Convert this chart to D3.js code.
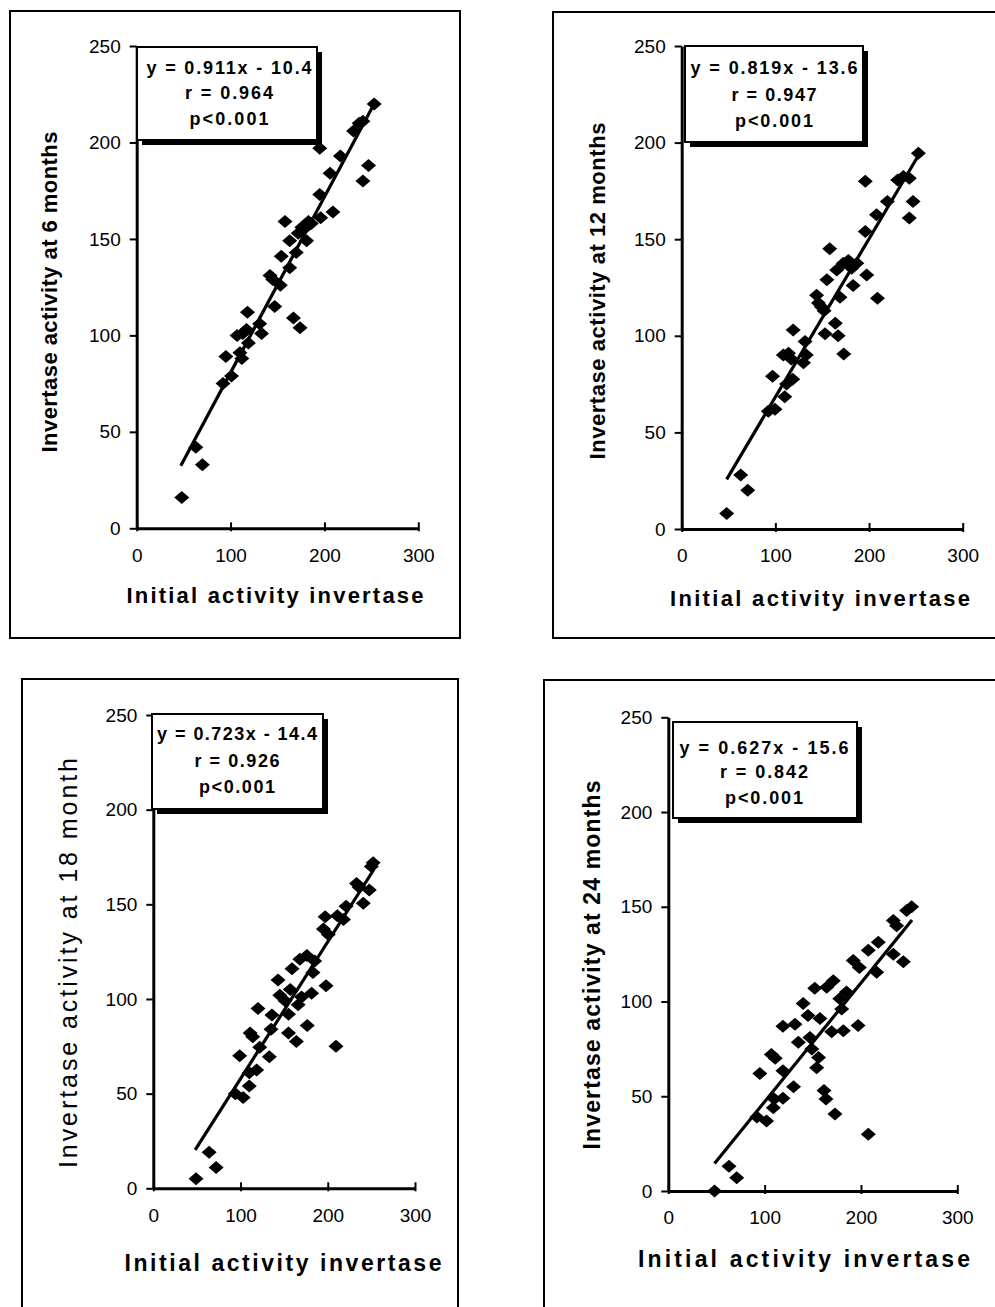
<!DOCTYPE html>
<html>
<head>
<meta charset="utf-8">
<script src="https://cdn.jsdelivr.net/npm/d3@7"></script>
<style>
  body { margin: 0; background: #fff; }
  svg { display: block; }
  text { font-family: "Liberation Sans", Arial, sans-serif; fill: #000; }
</style>
</head>
<body>
<script>
// ---- data ----
var xTicks = [0, 100, 200, 300];
var yTicks = [0, 50, 100, 150, 200, 250];
var xTitle = "Initial activity invertase";
var yTitles = ["Invertase activity at  6 months", "Invertase activity at  12 months",
               "Invertase activity at  18 month", "Invertase activity at  24 months"];
var eqLabels = ["y = 0.911x - 10.4", "y = 0.819x - 13.6", "y = 0.723x - 14.4", "y = 0.627x - 15.6"];
var rLabels = ["r = 0.964", "r = 0.947", "r = 0.926", "r = 0.842"];
var pLabels = ["p<0.001", "p<0.001", "p<0.001", "p<0.001"];
var slopes = [0.911, 0.819, 0.723, 0.627];
var intercepts = [-10.4, -13.6, -14.4, -15.6];
var fitFrom = [47, 48, 48, 48];
var fitTo = [253, 253, 253, 253];

// [initial activity, activity after storage]
var pts6 = [[48,16],[63,42],[70,33],[92,75],[95,89],[101,79],[107,100],[110,91],[112,88],[118,112],
  [119,96],[117,103],[113,101],[133,101],[131,106],[147,115],[142,131],[145,129],[153,126],[154,141],
  [163,135],[158,159],[163,149],[170,143],[167,109],[174,104],[176,156],[178,155],[181,149],[183,159],
  [172,153],[186,158],[195,173],[196,161],[195,197],[206,184],[209,164],[217,193],[231,206],[237,210],
  [241,211],[241,180],[247,188],[253,220]];
var pts12 = [[48,8],[63,28],[70.5,20],[92.5,61],[99.6,62],[97,79],[110,68.5],[112,75],[118.5,77.5],
  [108.5,90],[114,91],[117,88],[119,103],[130,86],[133,90],[131.7,97],[153,101],[164,106.5],[167,100],
  [173,90.6],[144,121],[149,115],[146,117],[152,113],[155,129],[158,145],[165.5,134],[169,120],
  [172.6,137.6],[178,139],[183,126],[181.5,135],[187,137.6],[196,180],[196,154],[197.5,131.5],
  [209,119.4],[208,162.6],[219.6,169.5],[230.6,180.7],[236.7,182.4],[243,181.6],[243,161],[247,169.5],
  [252.7,194.5]];
var pts18 = [[49,5],[64,19],[72,11],[94,50],[103,48],[99,70],[110,54],[110,61],[118.5,62.5],[111,82],
  [114,80],[120,95],[122,74.5],[133,69.5],[135,84],[136,91.5],[143,110],[145,102],[151,99],[155,92],
  [155,82],[157,105],[159,116],[164,77.5],[166,97],[170,101],[168,121],[176,123],[176.5,86],[181.5,103],
  [183,114],[185,120],[198,107],[195,137],[197,143.5],[200.6,134],[209.4,75],[211,144],[218,142],
  [221,149],[233,161],[236,159],[240.7,150.5],[247.6,157.6],[252,172],[250,170]];
var pts24 = [[48,0],[63,13],[71,7],[92,39],[102,37],[95,62],[109,44],[110,48.5],[119,49],[107,72],
  [111,70],[119,63.5],[119,87],[130,55],[131.5,88],[135,78.5],[140,99],[145,92.6],[147,81],[149,75],
  [156,70.5],[154,65],[152,107],[157.4,91],[161.6,53],[163.7,48.5],[173,40.6],[164.4,107.5],[171.3,111],
  [169.6,84],[178,101.4],[180,96],[181.7,84.6],[185,105],[197,87.3],[192,121.6],[198.3,118],[207.6,30],
  [207.6,127],[218,131.3],[216.3,115.5],[233.6,142.8],[237,140],[233.6,125],[244,121],[247.4,148],
  [252.6,150]];
var allPts = [pts6, pts12, pts18, pts24];

// ---- layout (pixel geometry of each panel) ----
var panels = [
  { frame: [10, 11, 450, 627], xr: [136.7, 418.3], yr: [528.3, 46],
    box: [137, 47, 180, 93], cx: 229, lines: [74, 99, 124.5], lens: [165, 88, 79], lf: 18,
    yt: { x: 57, cy: 292, len: 321, fs: 22, fw: "bold" }, xt: { cx: 275, y: 603, len: 297, fs: 22 } },
  { frame: [553, 12, 460, 626], xr: [681.7, 962.7], yr: [529, 46],
    box: [685, 46, 178, 96], cx: 774, lines: [74, 100.5, 127], lens: [167, 85, 78], lf: 18,
    yt: { x: 605, cy: 291, len: 337, fs: 22, fw: "bold" }, xt: { cx: 820, y: 606, len: 300, fs: 22 } },
  { frame: [22, 679, 436, 700], xr: [153.3, 415], yr: [1188.3, 715],
    box: [152, 714, 171, 95], cx: 237, lines: [740, 766.5, 793], lens: [160, 85, 76], lf: 18,
    yt: { x: 77, cy: 963, len: 410, fs: 25, fw: "normal" }, xt: { cx: 283, y: 1271, len: 317, fs: 23 } },
  { frame: [544, 680, 460, 700], xr: [668.3, 957.3], yr: [1191, 717.3],
    box: [673, 722, 184, 96], cx: 764, lines: [754, 778, 804], lens: [169, 88, 78], lf: 18,
    yt: { x: 600, cy: 965, len: 369, fs: 23, fw: "bold" }, xt: { cx: 804, y: 1267, len: 332, fs: 23 } }
];

var svg = d3.select("body").append("svg")
  .attr("width", 995).attr("height", 1307);

var diamond = "M0,-6.5L7.5,0L0,6.5L-7.5,0Z";

panels.forEach(function(p, i) {
  var g = svg.append("g");
  var x = d3.scaleLinear().domain([0, 300]).range(p.xr);
  var y = d3.scaleLinear().domain([0, 250]).range(p.yr);

  g.append("rect")
   .attr("x", p.frame[0]).attr("y", p.frame[1])
   .attr("width", p.frame[2]).attr("height", p.frame[3])
   .attr("fill", "none").attr("stroke", "#000").attr("stroke-width", 2);

  // fitted line
  var line = d3.line().x(d => x(d)).y(d => y(slopes[i] * d + intercepts[i]));
  g.append("path")
   .datum([fitFrom[i], fitTo[i]])
   .attr("d", line)
   .attr("fill", "none").attr("stroke", "#000").attr("stroke-width", 3.2);

  g.selectAll(".pt")
   .data(allPts[i])
   .enter().append("path")
   .attr("class", "pt")
   .attr("d", diamond)
   .attr("transform", d => "translate(" + x(d[0]) + "," + y(d[1]) + ")")
   .attr("fill", "#000");

  // axes
  var yAxis = g.append("g")
    .attr("transform", "translate(" + p.xr[0] + ",0)")
    .call(d3.axisLeft(y).tickValues(yTicks).tickSize(7).tickSizeOuter(0).tickPadding(9));
  var xAxis = g.append("g")
    .attr("transform", "translate(0," + p.yr[0] + ")")
    .call(d3.axisBottom(x).tickValues(xTicks).tickSize(-6).tickSizeOuter(0).tickPadding(20));
  [xAxis, yAxis].forEach(function(a) {
    a.attr("font-family", null).attr("font-size", null);
    a.select(".domain").attr("stroke-width", 3);
    a.selectAll(".tick line").attr("stroke-width", 2);
    a.selectAll(".tick text").style("font-size", "19px");
  });
  xAxis.selectAll(".tick line").attr("y2", -6).attr("y1", 3);

  // axis titles
  g.append("text")
   .attr("transform", "translate(" + p.yt.x + "," + p.yt.cy + ") rotate(-90)")
   .attr("text-anchor", "middle")
   .attr("textLength", p.yt.len)
   .style("font-size", p.yt.fs + "px").style("font-weight", p.yt.fw)
   .text(yTitles[i]);
  g.append("text")
   .attr("x", p.xt.cx).attr("y", p.xt.y)
   .attr("text-anchor", "middle")
   .attr("textLength", p.xt.len)
   .style("font-size", p.xt.fs + "px").style("font-weight", "bold")
   .text(xTitle);

  // equation box with drop shadow
  var b = p.box;
  g.append("rect")
   .attr("x", b[0] + 5).attr("y", b[1] + 5).attr("width", b[2]).attr("height", b[3])
   .attr("fill", "#000");
  g.append("rect")
   .attr("x", b[0]).attr("y", b[1]).attr("width", b[2]).attr("height", b[3])
   .attr("fill", "#fff").attr("stroke", "#000").attr("stroke-width", 2);
  [eqLabels[i], rLabels[i], pLabels[i]].forEach(function(s, k) {
    g.append("text")
     .attr("x", p.cx).attr("y", p.lines[k])
     .attr("text-anchor", "middle")
     .attr("textLength", p.lens[k])
     .style("font-size", p.lf + "px").style("font-weight", "bold")
     .text(s);
  });
});
</script>
</body>
</html>
